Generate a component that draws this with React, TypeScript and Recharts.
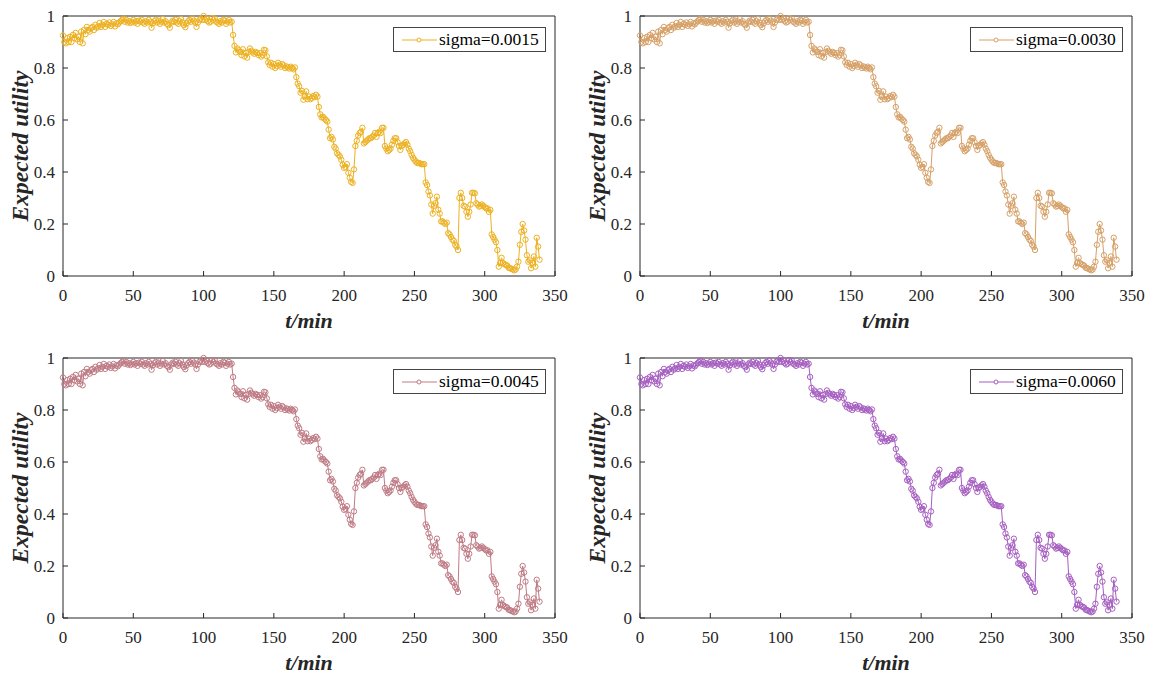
import React from 'react';
import { LineChart, Line, XAxis, YAxis, Legend } from 'recharts';

// Expected utility, one value per minute (t = 0 … 339 min)
const expectedUtility: number[] = [
  0.925, 0.900, 0.895, 0.915, 0.900, 0.920, 0.900, 0.927, 0.915, 0.935,
  0.910, 0.920, 0.900, 0.940, 0.895, 0.946, 0.930, 0.958, 0.946, 0.940,
  0.953, 0.958, 0.946, 0.966, 0.955, 0.960, 0.973, 0.958, 0.966, 0.977,
  0.958, 0.970, 0.966, 0.975, 0.962, 0.968, 0.977, 0.960, 0.972, 0.968,
  0.975, 0.980, 0.985, 0.990, 0.978, 0.985, 0.975, 0.980, 0.973, 0.978,
  0.985, 0.975, 0.980, 0.970, 0.982, 0.978, 0.985, 0.975, 0.970, 0.980,
  0.975, 0.985, 0.978, 0.955, 0.972, 0.980, 0.985, 0.975, 0.982, 0.970,
  0.978, 0.988, 0.975, 0.980, 0.970, 0.965, 0.955, 0.975, 0.982, 0.978,
  0.985, 0.975, 0.970, 0.980, 0.988, 0.975, 0.965, 0.957, 0.972, 0.980,
  0.985, 0.978, 0.990, 0.982, 0.975, 0.958, 0.975, 0.985, 0.990, 0.985,
  1.000, 0.985, 0.990, 0.980, 0.975, 0.978, 0.992, 0.985, 0.990, 0.978,
  0.975, 0.970, 0.980, 0.975, 0.985, 0.982, 0.970, 0.978, 0.985, 0.975,
  0.978, 0.927, 0.885, 0.860, 0.875, 0.868, 0.862, 0.850, 0.872, 0.845,
  0.858, 0.840, 0.862, 0.875, 0.866, 0.860, 0.855, 0.862, 0.858, 0.850,
  0.857, 0.844, 0.850, 0.870, 0.868, 0.845, 0.822, 0.812, 0.820, 0.805,
  0.815, 0.800, 0.808, 0.820, 0.812, 0.805, 0.815, 0.810, 0.800, 0.806,
  0.802, 0.798, 0.805, 0.800, 0.795, 0.802, 0.765, 0.740, 0.730, 0.705,
  0.712, 0.678, 0.690, 0.710, 0.680, 0.690, 0.680, 0.685, 0.692, 0.688,
  0.697, 0.690, 0.650, 0.622, 0.610, 0.612, 0.605, 0.600, 0.594, 0.563,
  0.530, 0.535, 0.525, 0.497, 0.490, 0.472, 0.466, 0.460, 0.447, 0.428,
  0.416, 0.420, 0.430, 0.397, 0.378, 0.362, 0.358, 0.410, 0.500, 0.520,
  0.540, 0.550, 0.555, 0.570, 0.510, 0.515, 0.520, 0.525, 0.530, 0.530,
  0.535, 0.540, 0.550, 0.535, 0.550, 0.555, 0.550, 0.570, 0.570, 0.500,
  0.490, 0.480, 0.485, 0.490, 0.505, 0.520, 0.530, 0.530, 0.515, 0.500,
  0.485, 0.500, 0.505, 0.510, 0.515, 0.505, 0.490, 0.480, 0.466, 0.455,
  0.447, 0.440, 0.435, 0.435, 0.433, 0.430, 0.430, 0.430, 0.360, 0.350,
  0.325, 0.310, 0.275, 0.240, 0.270, 0.280, 0.305, 0.255, 0.240, 0.210,
  0.210, 0.205, 0.200, 0.205, 0.165, 0.160, 0.150, 0.140, 0.135, 0.120,
  0.113, 0.100, 0.300, 0.320, 0.300, 0.270, 0.267, 0.247, 0.228, 0.247,
  0.275, 0.320, 0.320, 0.318, 0.280, 0.275, 0.267, 0.270, 0.275, 0.270,
  0.265, 0.260, 0.260, 0.247, 0.254, 0.160, 0.150, 0.140, 0.130, 0.100,
  0.036, 0.050, 0.070, 0.050, 0.045, 0.043, 0.040, 0.032, 0.030, 0.028,
  0.025, 0.022, 0.025, 0.036, 0.055, 0.120, 0.170, 0.200, 0.175, 0.140,
  0.080, 0.055, 0.060, 0.030, 0.050, 0.075, 0.036, 0.147, 0.113, 0.063,
];

const xTicks = [0, 50, 100, 150, 200, 250, 300, 350];
const yTicks = [0, 0.2, 0.4, 0.6, 0.8, 1];
const sigmaNames = ['sigma=0.0015', 'sigma=0.0030', 'sigma=0.0045', 'sigma=0.0060'];
const sigmaColors = ['#EDB120', '#D6A067', '#BF7B85', '#A65FC1'];
const xTitle = 't/min';
const yTitle = 'Expected utility';

const data = expectedUtility.map((u, i) => ({ t: i, u }));

const AX = '#262626';
const FONT = 'Liberation Serif';

const XLabel = (props: any) => {
  const vb = props.viewBox || {};
  return (
    <text
      x={vb.x + vb.width / 2}
      y={vb.y + 44}
      textAnchor="middle"
      dominantBaseline="central"
      fontFamily={FONT}
      fontSize={22}
      fontWeight="bold"
      fontStyle="italic"
      fill={AX}
    >
      {xTitle}
    </text>
  );
};

const YLabel = (props: any) => {
  const vb = props.viewBox || {};
  const cx = vb.x + 20;
  const cy = vb.y + vb.height / 2;
  return (
    <text
      x={cx}
      y={cy}
      transform={`rotate(-90, ${cx}, ${cy})`}
      textAnchor="middle"
      dominantBaseline="central"
      fontFamily={FONT}
      fontSize={23.5}
      fontWeight="bold"
      fontStyle="italic"
      fill={AX}
    >
      {yTitle}
    </text>
  );
};

const LegendBox = (props: any) => {
  const item = (props.payload || [])[0] || {};
  const color = item.color;
  return (
    <div
      style={{
        boxSizing: 'border-box',
        width: 153,
        height: 25,
        border: '1px solid #444',
        background: '#fff',
        display: 'flex',
        alignItems: 'center',
        fontFamily: FONT,
        fontSize: 17.5,
        color: '#000',
        whiteSpace: 'nowrap',
        lineHeight: '23px',
      }}
    >
      <svg width={45} height={12} style={{ flex: 'none' }}>
        <line x1={8} x2={43} y1={6} y2={6} stroke={color} strokeWidth={1} />
        <circle cx={25} cy={6} r={2} fill="#fff" stroke={color} strokeWidth={1} />
      </svg>
      <span>{item.value}</span>
    </div>
  );
};

function Panel({ left, top, name, color }: { left: number; top: number; name: string; color: string }) {
  const tickStyle = { fill: AX, fontSize: 17, fontFamily: FONT };
  return (
    <div style={{ position: 'absolute', left, top, fontFamily: FONT }}>
      <LineChart width={580} height={336} data={data} margin={{ top: 15, right: 24, bottom: 0, left: 0 }} style={{ fontFamily: FONT }}>
        <XAxis
          dataKey="t"
          type="number"
          domain={[0, 350]}
          ticks={xTicks}
          interval={0}
          height={60}
          tickSize={-5}
          tickMargin={18}
          axisLine={{ stroke: AX }}
          tickLine={{ stroke: AX }}
          tick={tickStyle}
          label={{ content: XLabel }}
        />
        <XAxis
          xAxisId="top"
          orientation="top"
          dataKey="t"
          type="number"
          domain={[0, 350]}
          ticks={xTicks}
          interval={0}
          height={1}
          tickSize={-5}
          tick={false}
          axisLine={{ stroke: AX }}
          tickLine={{ stroke: AX }}
        />
        <YAxis
          type="number"
          domain={[0, 1]}
          ticks={yTicks}
          interval={0}
          width={63}
          tickSize={-5}
          tickMargin={13}
          axisLine={{ stroke: AX }}
          tickLine={{ stroke: AX }}
          tick={tickStyle}
          label={{ content: YLabel }}
        />
        <YAxis
          yAxisId="right"
          orientation="right"
          type="number"
          domain={[0, 1]}
          ticks={yTicks}
          interval={0}
          width={1}
          tickSize={-5}
          tick={false}
          axisLine={{ stroke: AX }}
          tickLine={{ stroke: AX }}
        />
        <Legend
          layout="horizontal"
          align="center"
          verticalAlign="middle"
          content={LegendBox}
          wrapperStyle={{ left: 393, top: 27, width: 153, height: 25 }}
        />
        <Line
          type="linear"
          dataKey="u"
          name={name}
          stroke={color}
          strokeWidth={1}
          dot={{ r: 2.7, fill: 'none', stroke: color, strokeWidth: 1 }}
          activeDot={false}
          isAnimationActive={false}
        />
      </LineChart>
    </div>
  );
}

export default function App() {
  return (
    <div style={{ position: 'absolute', left: 0, top: 0, width: 1165, height: 673, background: '#fff', overflow: 'hidden', fontFamily: FONT }}>
      <Panel left={0} top={0} name={sigmaNames[0]} color={sigmaColors[0]} />
      <Panel left={577} top={0} name={sigmaNames[1]} color={sigmaColors[1]} />
      <Panel left={0} top={342} name={sigmaNames[2]} color={sigmaColors[2]} />
      <Panel left={577} top={342} name={sigmaNames[3]} color={sigmaColors[3]} />
    </div>
  );
}
